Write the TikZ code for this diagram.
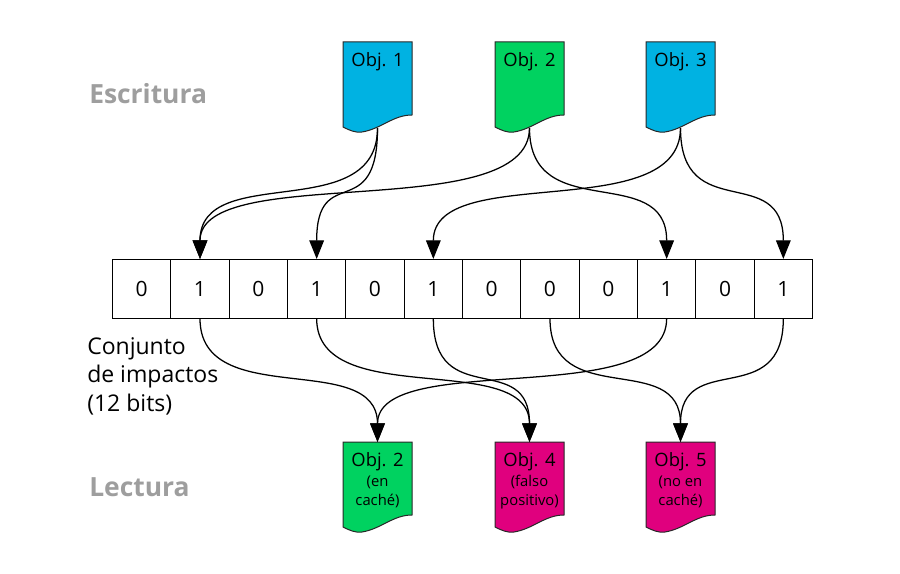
\documentclass[tikz,border=0pt]{standalone}
\usepackage{fontspec}
\setmainfont{Open Sans}
\usetikzlibrary{arrows.meta}
\definecolor{cblue}{RGB}{0,178,226}
\definecolor{cgreen}{RGB}{0,210,96}
\definecolor{cmag}{RGB}{224,0,126}
\definecolor{labgray}{RGB}{158,158,158}
\definecolor{docline}{RGB}{40,40,40}
\tikzset{
  pics/docu/.style={code={
    \filldraw[fill=#1,draw=docline,line width=0.75pt]
      (0,0) -- (69,0) -- (69,73)
      .. controls (50,73) and (38,87) .. (19,90)
      .. controls (12,91) and (6,88) .. (0,85) -- cycle;}},
  cell/.style={draw=black,line width=0.75pt,minimum width=43.75pt,minimum height=43.9pt,
    inner sep=0pt,font=\fontsize{15.75}{18}\selectfont},
  objtitle/.style={anchor=base,inner sep=0pt,font=\fontsize{13.8}{16}\selectfont},
  objsub/.style={anchor=base,inner sep=0pt,align=center,font=\fontsize{11.1}{13.8}\selectfont},
  sidelabel/.style={anchor=base west,inner sep=0pt,text=labgray,font=\bfseries\fontsize{19.8}{24}\selectfont},
  conn/.style={draw=black,line width=0.95pt,-{Triangle[width=11pt,length=14pt]}}
}
\begin{document}
\begin{tikzpicture}[x=0.75pt,y=-0.75pt]
\fill[white] (0,0) rectangle (900,574);
\useasboundingbox (0,0) rectangle (900,574);

% side labels
\node[sidelabel] (escr) at (89,104) {Escritura};
\node[sidelabel] (lect) at (89,496) {Lectura};

% top documents
\pic at (343,42) {docu=cblue};
\pic at (495,42) {docu=cgreen};
\pic at (646,42) {docu=cblue};
\node[objtitle] (o1) at (377.5,66.5) {Obj. 1};
\node[objtitle] (o2) at (529.5,66.5) {Obj. 2};
\node[objtitle] (o3) at (680.5,66.5) {Obj. 3};
\coordinate (o1b) at (377.5,128);
\coordinate (o2b) at (529.5,128);
\coordinate (o3b) at (680.5,128);

% bit array
\foreach \b [count=\i from 0] in {0,1,0,1,0,1,0,0,0,1,0,1}
  \node[cell] (c\i) at ({112.5+58.333*(\i+0.5)},288.75) {\b};

\node[anchor=west,inner sep=0pt,align=left,font=\fontsize{17.25}{21.4}\selectfont] (conj) at (87,376)
  {Conjunto\\de impactos\\(12 bits)};

% bottom documents
\pic at (343,442) {docu=cgreen};
\pic at (495,442) {docu=cmag};
\pic at (646,442) {docu=cmag};
\node[objtitle] (r1) at (377.5,466.5) {Obj. 2};
\node[objtitle] (r2) at (529.5,466.5) {Obj. 4};
\node[objtitle] (r3) at (680.5,466.5) {Obj. 5};
\node[objsub] (r1s) at (377.5,505) {(en\\caché)};
\node[objsub] (r2s) at (529.5,505) {(falso\\positivo)};
\node[objsub] (r3s) at (680.5,505) {(no en\\caché)};
\coordinate (r1t) at (377.5,442);
\coordinate (r2t) at (529.5,442);
\coordinate (r3t) at (680.5,442);

% writing connectors
\draw[conn] (o1b) .. controls +(0,98) and +(0,-98) .. (c1.north);
\draw[conn] (o1b) .. controls +(0,98) and +(0,-98) .. (c3.north);
\draw[conn] (o2b) .. controls +(0,98) and +(0,-98) .. (c1.north);
\draw[conn] (o2b) .. controls +(0,98) and +(0,-98) .. (c9.north);
\draw[conn] (o3b) .. controls +(0,98) and +(0,-98) .. (c5.north);
\draw[conn] (o3b) .. controls +(0,98) and +(0,-98) .. (c11.north);

% reading connectors
\draw[conn] (c1.south) .. controls +(0,93) and +(0,-93) .. (r1t);
\draw[conn] (c3.south) .. controls +(0,93) and +(0,-93) .. (r2t);
\draw[conn] (c5.south) .. controls +(0,93) and +(0,-93) .. (r2t);
\draw[conn] (c7.south) .. controls +(0,93) and +(0,-93) .. (r3t);
\draw[conn] (c9.south) .. controls +(0,93) and +(0,-93) .. (r1t);
\draw[conn] (c11.south) .. controls +(0,93) and +(0,-93) .. (r3t);
\end{tikzpicture}
\end{document}
